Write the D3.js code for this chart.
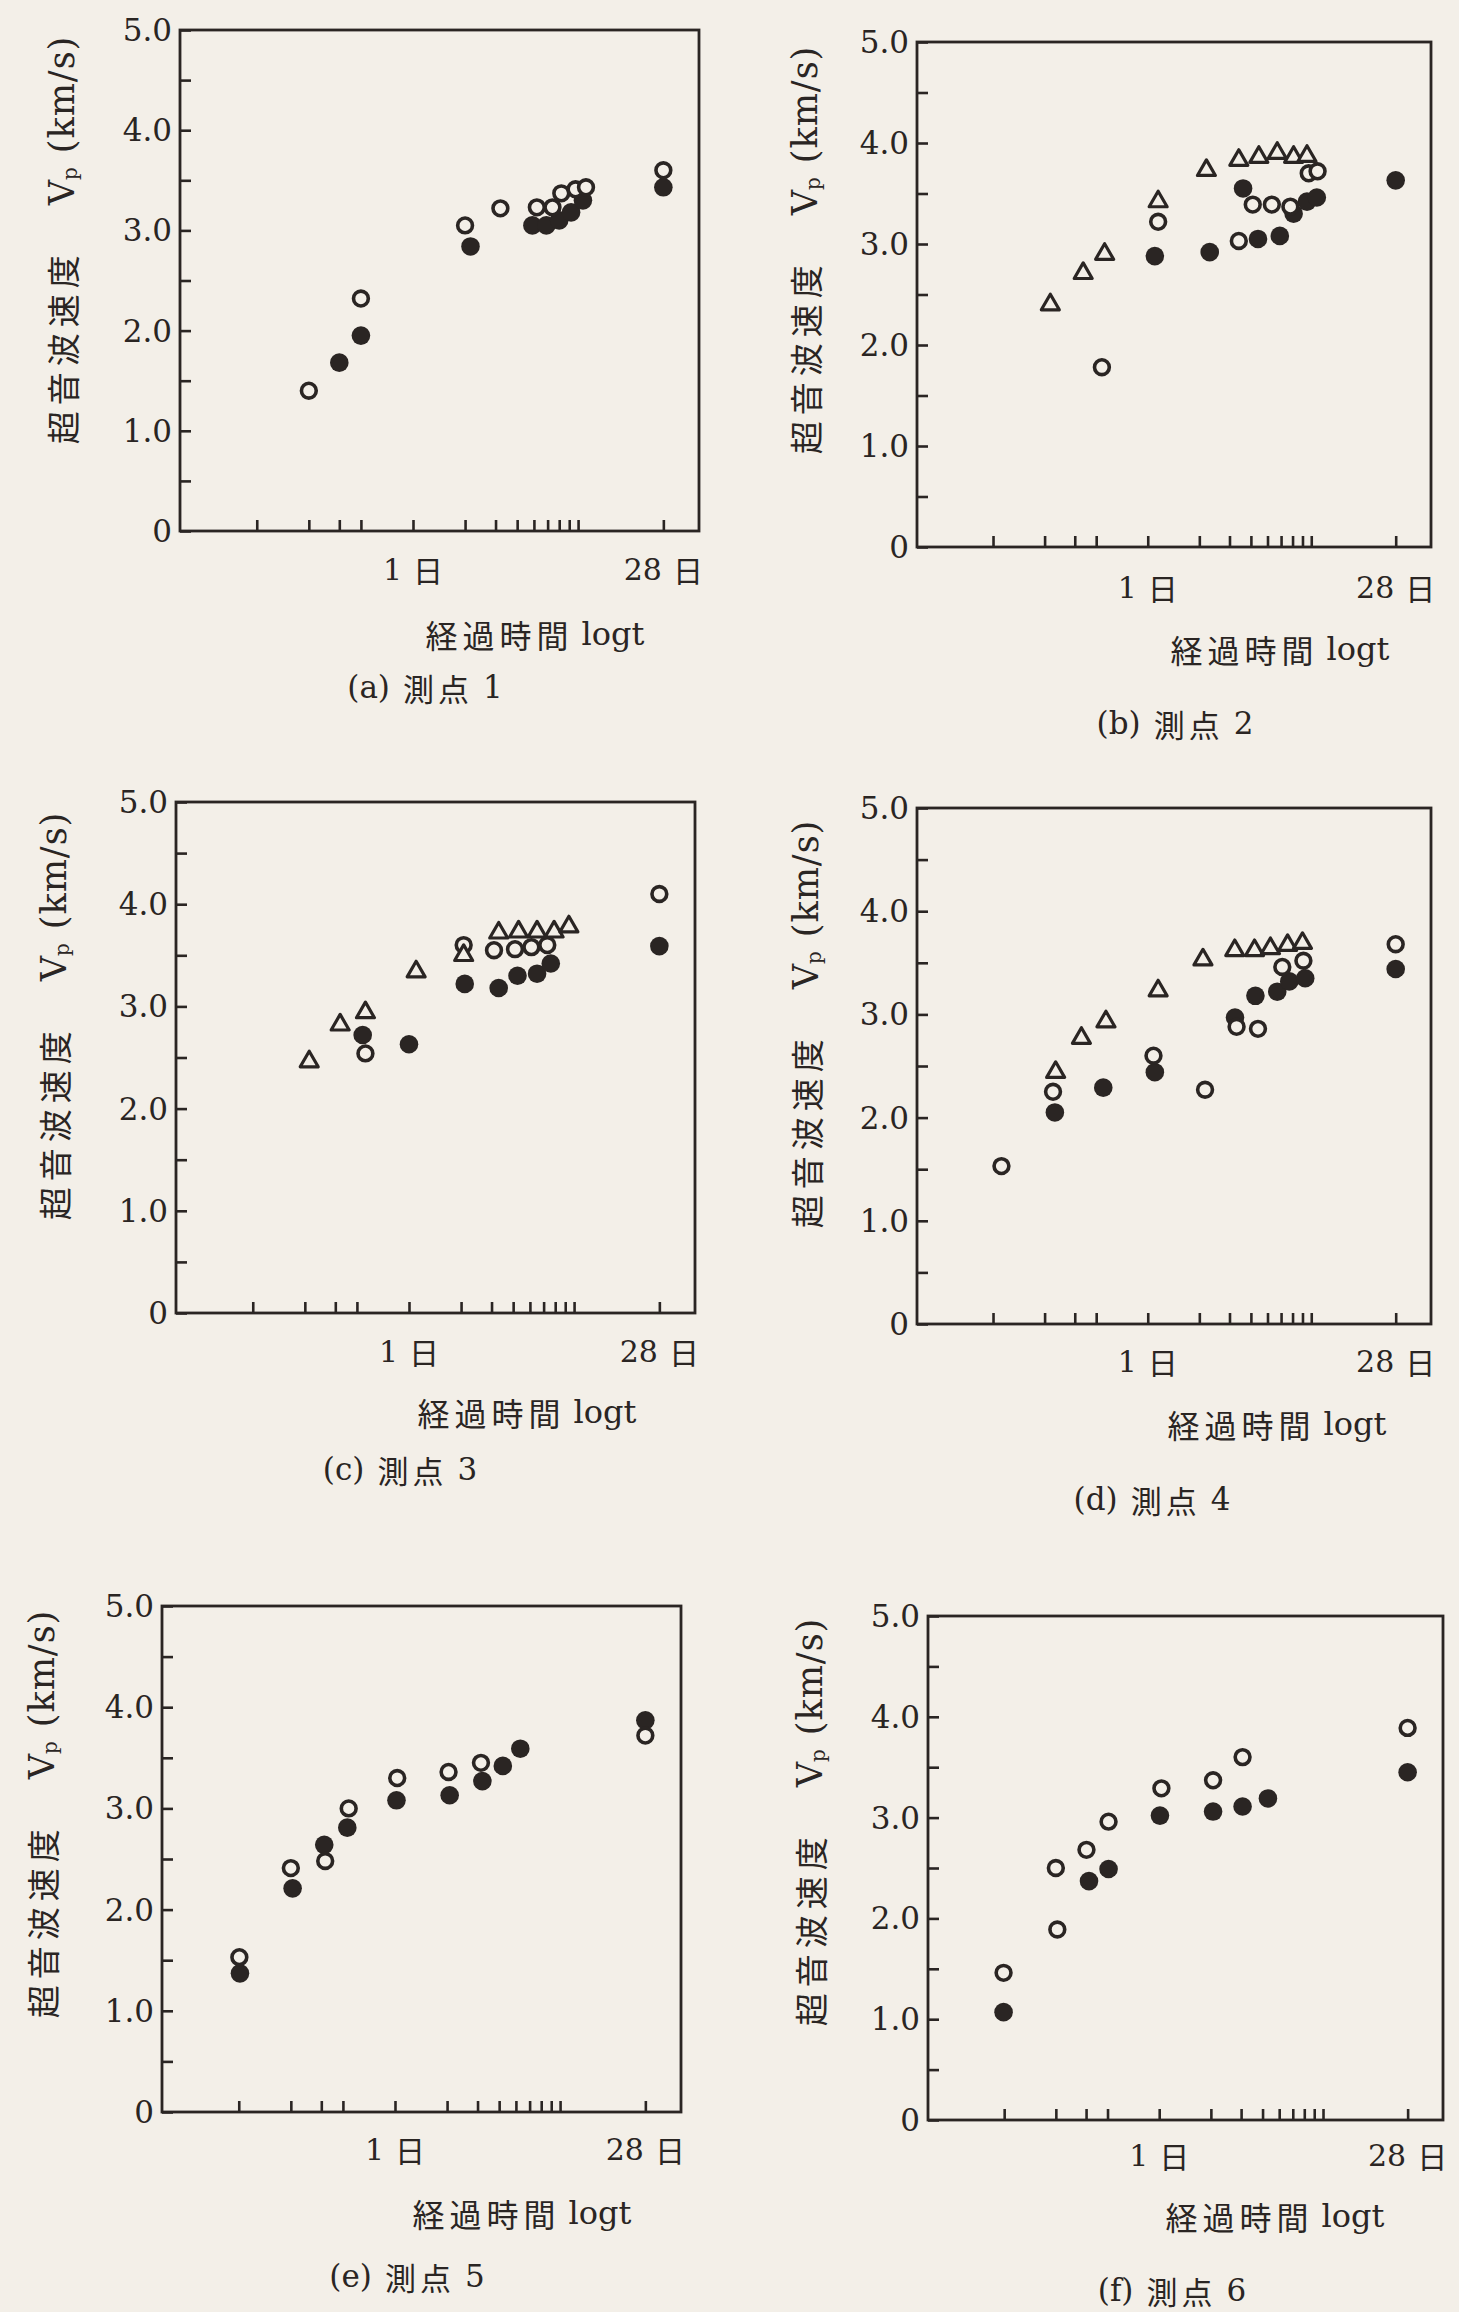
<!DOCTYPE html>
<html><head><meta charset="utf-8">
<script src="https://cdn.jsdelivr.net/npm/d3@7"></script>
<style>html,body{margin:0;padding:0;background:#f3efe8;} svg{display:block}</style>
</head><body><svg id="c" width="1459" height="2312"></svg>
<script>
// ---------- data ----------
const panelCaptions = [["(a)","測点","1"],["(b)","測点","2"],["(c)","測点","3"],["(d)","測点","4"],["(e)","測点","5"],["(f)","測点","6"]];
const xTickDays = [0.125,0.25,0.375,0.5,1,2,3,4,5,6,7,8,9,28];
const xTickLabelDays = [1,28];
const xTickLabelNums = ["1","28"];
const yTickValues = [0,0.5,1,1.5,2,2.5,3,3.5,4,4.5,5];
const yLabelValues = [0,1,2,3,4,5];
const yLabelTexts = ["0","1.0","2.0","3.0","4.0","5.0"];
const xTitle = ["経過時間","logt"];
const yTitle = ["超音波速度","V","p","(km/s)"];

// [days, Vp km/s]
const aOpen   = [[0.25,1.40],[0.5,2.32],[2.0,3.05],[3.2,3.22],[5.2,3.23],[6.4,3.23],[7.2,3.37],[8.7,3.41],[10,3.43],[28,3.60]];
const aFilled = [[0.375,1.68],[0.5,1.95],[2.15,2.84],[4.9,3.05],[5.9,3.05],[7.0,3.10],[8.2,3.18],[9.6,3.30],[28,3.43]];
const aTri    = [];

const bTri    = [[0.27,2.40],[0.42,2.71],[0.56,2.90],[1.15,3.42],[2.2,3.73],[3.4,3.83],[4.45,3.86],[5.7,3.90],[7.1,3.86],[8.5,3.87]];
const bOpen   = [[0.54,1.78],[1.15,3.22],[3.4,3.03],[4.1,3.39],[5.3,3.39],[6.8,3.37],[8.7,3.70],[9.8,3.72]];
const bFilled = [[1.1,2.88],[2.3,2.92],[3.6,3.55],[4.4,3.05],[5.9,3.08],[7.1,3.30],[8.5,3.42],[9.7,3.46],[28,3.63]];

const cTri    = [[0.265,2.46],[0.40,2.82],[0.56,2.94],[1.1,3.34],[2.07,3.50],[3.3,3.72],[4.3,3.73],[5.5,3.73],[6.9,3.73],[8.4,3.78]];
const cOpen   = [[0.56,2.54],[2.07,3.60],[3.1,3.55],[4.1,3.56],[5.1,3.58],[6.3,3.60],[28,4.10]];
const cFilled = [[0.54,2.72],[1.0,2.63],[2.1,3.22],[3.3,3.18],[4.24,3.30],[5.5,3.32],[6.6,3.42],[28,3.59]];

const dTri    = [[0.29,2.44],[0.41,2.77],[0.57,2.93],[1.15,3.23],[2.1,3.53],[3.22,3.62],[4.2,3.62],[5.2,3.64],[6.55,3.67],[8.0,3.69]];
const dOpen   = [[0.14,1.53],[0.28,2.25],[1.08,2.60],[2.16,2.27],[3.3,2.88],[4.4,2.86],[6.1,3.46],[8.1,3.52],[28,3.68]];
const dFilled = [[0.287,2.05],[0.55,2.29],[1.1,2.44],[3.23,2.97],[4.25,3.18],[5.7,3.22],[6.7,3.32],[8.3,3.35],[28,3.44]];

const eOpen   = [[0.126,1.53],[0.25,2.41],[0.395,2.48],[0.54,3.00],[1.03,3.30],[2.04,3.36],[3.14,3.45],[28,3.72]];
const eFilled = [[0.127,1.37],[0.256,2.21],[0.39,2.64],[0.53,2.81],[1.02,3.08],[2.07,3.13],[3.2,3.27],[4.2,3.42],[5.3,3.59],[28,3.87]];
const eTri    = [];

const fOpen   = [[0.124,1.46],[0.25,2.50],[0.255,1.89],[0.377,2.68],[0.507,2.96],[1.03,3.29],[2.06,3.37],[3.06,3.60],[28,3.89]];
const fFilled = [[0.124,1.07],[0.39,2.37],[0.507,2.49],[1.01,3.02],[2.06,3.06],[3.06,3.11],[4.3,3.19],[28,3.45]];
const fTri    = [];

const seriesOpen   = [aOpen,bOpen,cOpen,dOpen,eOpen,fOpen];
const seriesFilled = [aFilled,bFilled,cFilled,dFilled,eFilled,fFilled];
const seriesTri    = [aTri,bTri,cTri,dTri,eTri,fTri];

// ---------- layout ----------
const layout = [
  {L:180,R:699, T:30,  B:531, ytx:62, yty:240, capx:425, capy:687, xlo:38, xtx:535, xto:103},
  {L:917,R:1431,T:42,  B:547, ytx:805,yty:250, capx:1175,capy:723, xlo:40, xtx:1280,xto:102},
  {L:176,R:695, T:802, B:1313,ytx:54, yty:1016,capx:400, capy:1469,xlo:38, xtx:527, xto:99},
  {L:917,R:1431,T:808, B:1324,ytx:806,yty:1024,capx:1152,capy:1499,xlo:37, xtx:1277,xto:100},
  {L:162,R:681, T:1606,B:2112,ytx:42, yty:1814,capx:407, capy:2276,xlo:37, xtx:522, xto:101},
  {L:928,R:1443,T:1616,B:2120,ytx:810,yty:1822,capx:1172,capy:2290,xlo:35, xtx:1275,xto:96}
];
const INK = "#2a2523", BG = "#f3efe8";
const SERIF = "'DejaVu Serif', 'Liberation Serif', serif";
const CJK = "'Noto Sans CJK JP', sans-serif";

const svg = d3.select("#c");
svg.append("rect").attr("width",1459).attr("height",2312).attr("fill",BG);

layout.forEach((lo, i) => {
  const g = svg.append("g");
  const x = d3.scaleLog().domain([0.045,45]).range([lo.L, lo.R]);
  const y = d3.scaleLinear().domain([0,5]).range([lo.B, lo.T]);

  // ticks (inward)
  const xa = g.append("g").attr("transform",`translate(0,${lo.B})`)
    .call(d3.axisBottom(x).tickValues(xTickDays).tickSize(-11).tickFormat(""));
  const ya = g.append("g").attr("transform",`translate(${lo.L},0)`)
    .call(d3.axisLeft(y).tickValues(yTickValues).tickSize(-11).tickFormat(""));
  [xa,ya].forEach(a=>{ a.select(".domain").remove(); a.selectAll("line").attr("stroke",INK).attr("stroke-width",2.6); });

  // frame
  g.append("rect").attr("x",lo.L).attr("y",lo.T).attr("width",lo.R-lo.L).attr("height",lo.B-lo.T)
    .attr("fill","none").attr("stroke",INK).attr("stroke-width",2.8);

  // y labels
  g.selectAll(".yl").data(yLabelValues).enter().append("text")
    .attr("x",lo.L-8).attr("y",d=>y(d)).attr("text-anchor","end").attr("dominant-baseline","central")
    .attr("font-family",SERIF).attr("font-size",31).attr("fill",INK)
    .text((d,k)=>yLabelTexts[k]);

  // x labels
  xTickLabelDays.forEach((d,k)=>{
    const t = g.append("text").attr("x",x(d)).attr("y",lo.B+lo.xlo).attr("text-anchor","middle")
      .attr("dominant-baseline","central").attr("fill",INK);
    t.append("tspan").attr("font-family",SERIF).attr("font-size",30).text(xTickLabelNums[k]);
    t.append("tspan").attr("dx",11).attr("font-family",CJK).attr("font-size",30).text("日");
  });

  // x title
  const xt = g.append("text").attr("x",lo.xtx).attr("y",lo.B+lo.xto)
    .attr("text-anchor","middle").attr("dominant-baseline","central").attr("fill",INK);
  xt.append("tspan").attr("font-family",CJK).attr("font-size",32).attr("letter-spacing",5).text(xTitle[0]);
  xt.append("tspan").attr("dx",8).attr("font-family",SERIF).attr("font-size",32).text(xTitle[1]);

  // y title (rotated)
  const yt = g.append("text").attr("transform",`translate(${lo.ytx},${lo.yty}) rotate(-90)`)
    .attr("text-anchor","middle").attr("dominant-baseline","central").attr("fill",INK);
  yt.append("tspan").attr("font-family",CJK).attr("font-size",33).attr("letter-spacing",6).text(yTitle[0]);
  yt.append("tspan").attr("dx",44).attr("font-family",SERIF).attr("font-size",35).text(yTitle[1]);
  yt.append("tspan").attr("dy",8).attr("font-family",SERIF).attr("font-size",20).text(yTitle[2]);
  yt.append("tspan").attr("dy",-8).attr("dx",14).attr("font-family",SERIF).attr("font-size",35).attr("letter-spacing",1).text(yTitle[3]);

  // caption
  const cap = g.append("text").attr("x",lo.capx).attr("y",lo.capy).attr("text-anchor","middle")
    .attr("dominant-baseline","central").attr("fill",INK);
  cap.append("tspan").attr("font-family",SERIF).attr("font-size",31).text(panelCaptions[i][0]);
  cap.append("tspan").attr("dx",13).attr("font-family",CJK).attr("font-size",31).attr("letter-spacing",4).text(panelCaptions[i][1]);
  cap.append("tspan").attr("dx",10).attr("font-family",SERIF).attr("font-size",31).text(panelCaptions[i][2]);

  // markers
  g.selectAll(".f").data(seriesFilled[i]).enter().append("circle")
    .attr("cx",d=>x(d[0])).attr("cy",d=>y(d[1])).attr("r",9.3).attr("fill",INK);
  g.selectAll(".o").data(seriesOpen[i]).enter().append("circle")
    .attr("cx",d=>x(d[0])).attr("cy",d=>y(d[1])).attr("r",7.4)
    .attr("fill",BG).attr("stroke",INK).attr("stroke-width",3.6);
  const tri = d3.symbol().type(d3.symbolTriangle).size(140);
  g.selectAll(".t").data(seriesTri[i]).enter().append("path")
    .attr("d",tri).attr("transform",d=>`translate(${x(d[0])},${y(d[1])})`)
    .attr("fill",BG).attr("stroke",INK).attr("stroke-width",3.2).attr("stroke-linejoin","round");
});
</script>
</body></html>
